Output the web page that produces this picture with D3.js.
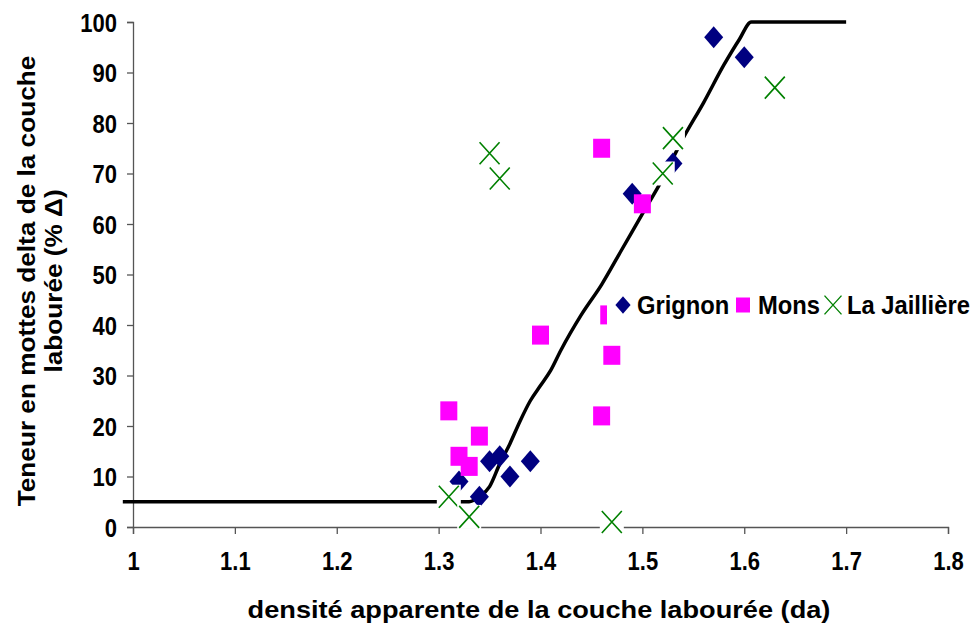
<!DOCTYPE html>
<html>
<head>
<meta charset="utf-8">
<script src="https://cdn.jsdelivr.net/npm/d3@7"></script>
<style>
  body { margin: 0; background: #fff; }
  text { font-family: "Liberation Sans", Arial, sans-serif; font-weight: bold; fill: #000; }
</style>
</head>
<body>
<script>
// density (da) vs % delta clods
const grignon = [[1.32, 9], [1.34, 6], [1.35, 13], [1.36, 14], [1.37, 10], [1.39, 13],
  [1.49, 66], [1.53, 72], [1.57, 97], [1.60, 93]];
const mons = [[1.31, 23], [1.34, 18], [1.32, 14], [1.33, 12], [1.40, 38], [1.46, 22],
  [1.467, 42], [1.47, 34], [1.46, 75], [1.50, 64]];
const jailliere = [[1.31, 6], [1.33, 2], [1.35, 74], [1.36, 69], [1.47, 1], [1.52, 70],
  [1.53, 77], [1.63, 87]];
const curveX = [0.99, 1.33, 1.34, 1.35, 1.36, 1.37, 1.38, 1.39, 1.40, 1.41, 1.42, 1.44, 1.46,
  1.48, 1.50, 1.52, 1.54, 1.56, 1.58, 1.595, 1.607, 1.70];
const curveY = [5, 5, 6, 8, 12.5, 16.5, 21, 25, 28, 31, 35, 42, 48, 55, 62, 69, 77, 84, 91.5, 96.5, 100, 100];
const xTicks = [1, 1.1, 1.2, 1.3, 1.4, 1.5, 1.6, 1.7, 1.8];
const yTicks = [0, 10, 20, 30, 40, 50, 60, 70, 80, 90, 100];
const seriesNames = ['Grignon', 'Mons', 'La Jaillière'];

const width = 977, height = 627;
const x = d3.scaleLinear().domain([1, 1.8]).range([133, 948]);
const y = d3.scaleLinear().domain([0, 100]).range([527, 22]);

const svg = d3.select('body').append('svg')
  .attr('width', width)
  .attr('height', height);

// the original glyphs are tall and narrow: measure at a normal size, then
// grow the font while keeping the width (times a stretch factor)
function tallText(sel, base, big, stretch = 1) {
  sel.each(function () {
    const t = d3.select(this).style('font-size', base + 'px');
    const len = this.getComputedTextLength();
    t.style('font-size', big + 'px')
      .attr('textLength', len * stretch)
      .attr('lengthAdjust', 'spacingAndGlyphs');
  });
}

// axes
const xAxis = svg.append('g')
  .attr('transform', `translate(0,${y(0)})`)
  .call(d3.axisBottom(x).tickValues(xTicks).tickSize(7).tickPadding(14).tickFormat(d3.format('')));
const yAxis = svg.append('g')
  .attr('transform', `translate(${x(1)},0)`)
  .call(d3.axisLeft(y).tickValues(yTicks).tickSize(6).tickPadding(10));
[xAxis, yAxis].forEach(a => {
  a.select('.domain').attr('stroke', '#555').attr('stroke-width', 1.3);
  a.selectAll('.tick line').attr('stroke', '#555').attr('stroke-width', 1.3);
  a.selectAll('.tick text').attr('fill', '#000');
  tallText(a.selectAll('.tick text'), 22, 25);
});
xAxis.selectAll('.tick text').attr('dy', '0.87em');
yAxis.selectAll('.tick text').attr('dy', '0.36em');

// axis titles
svg.append('text')
  .attr('x', 539).attr('y', 618)
  .attr('text-anchor', 'middle')
  .text('densité apparente de la couche labourée (da)')
  .call(tallText, 22, 24, 1.235);
svg.append('text')
  .attr('transform', 'translate(35,281) rotate(-90)')
  .attr('text-anchor', 'middle')
  .text('Teneur en mottes delta de la couche')
  .call(tallText, 22, 24, 1.19);
svg.append('text')
  .attr('transform', 'translate(62,281) rotate(-90)')
  .attr('text-anchor', 'middle')
  .text('labourée (% Δ)')
  .call(tallText, 22, 24, 1.19);

// fitted curve
const line = d3.line().x(d => x(d[0])).y(d => y(d[1])).curve(d3.curveMonotoneX);
svg.append('path')
  .datum(curveX.map((v, i) => [v, curveY[i]]))
  .attr('d', line)
  .attr('fill', 'none')
  .attr('stroke', '#000')
  .attr('stroke-width', 3.5);

const diamondPath = 'M0,-11L9.5,0L0,11L-9.5,0Z';
function drawDiamond(g) {
  g.append('path').attr('d', diamondPath).attr('fill', '#000080');
}
function drawSquare(g, w = 17, h = 19) {
  g.append('rect').attr('x', -w / 2).attr('y', -h / 2).attr('width', w).attr('height', h)
    .attr('fill', '#ff00ff');
}
function drawCross(g, box = true) {
  if (box) {
    g.append('rect').attr('x', -12).attr('y', -12).attr('width', 24).attr('height', 24).attr('fill', '#fff');
  }
  g.append('path').attr('d', 'M-10,-11L10,11M10,-11L-10,11')
    .attr('stroke', '#008000').attr('stroke-width', 1.6).attr('fill', 'none');
}

svg.append('g').selectAll('g').data(grignon).join('g')
  .attr('transform', d => `translate(${x(d[0])},${y(d[1])})`)
  .each(function () { drawDiamond(d3.select(this)); });
svg.append('g').selectAll('g').data(mons).join('g')
  .attr('transform', d => `translate(${x(d[0])},${y(d[1])})`)
  .each(function () { drawSquare(d3.select(this)); });
svg.append('g').selectAll('g').data(jailliere).join('g')
  .attr('transform', d => `translate(${x(d[0])},${y(d[1])})`)
  .each(function () { drawCross(d3.select(this)); });

// legend (white box over the plot)
const legend = svg.append('g').attr('transform', 'translate(607,288)');
legend.append('rect').attr('width', 370).attr('height', 40).attr('fill', '#fff');
const legendItems = [
  { name: seriesNames[0], mx: 16, tx: 30, draw: drawDiamond, sc: 0.8 },
  { name: seriesNames[1], mx: 136, tx: 151, draw: g => drawSquare(g, 14, 15), sc: 1 },
  { name: seriesNames[2], mx: 226, tx: 240, draw: g => drawCross(g, false), sc: 0.85 }
];
legendItems.forEach(it => {
  const g = legend.append('g').attr('transform', `translate(${it.mx},17) scale(${it.sc})`);
  it.draw(g);
  legend.append('text').attr('x', it.tx).attr('y', 26)
    .text(it.name)
    .call(tallText, 22, 25, 1.08);
});
</script>
</body>
</html>
